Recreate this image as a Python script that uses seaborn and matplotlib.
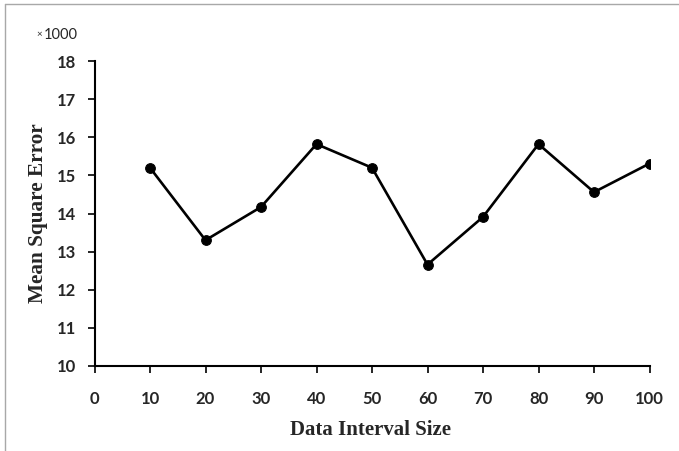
import matplotlib
matplotlib.use("Agg")
import matplotlib.pyplot as plt
import seaborn as sns
import pandas as pd
from matplotlib.lines import Line2D

interval_size = [10, 20, 30, 40, 50, 60, 70, 80, 90, 100]
mse_thousands = [15.2, 13.3, 14.17, 15.82, 15.2, 12.66, 13.91, 15.82, 14.56, 15.31]
x_ticks = [0, 10, 20, 30, 40, 50, 60, 70, 80, 90, 100]
y_ticks = [10, 11, 12, 13, 14, 15, 16, 17, 18]

sns.set_style("white")
plt.rcParams['font.family'] = ['Lato', 'DejaVu Sans']

df = pd.DataFrame({"size": interval_size, "mse": mse_thousands})

W, H = 679, 451
fig = plt.figure(figsize=(W / 100, H / 100), dpi=100)
L, R, T, B = 94.5, 649.5, 61, 366
ax = fig.add_axes([L / W, 1 - B / H, (R - L) / W, (B - T) / H])

sns.lineplot(data=df, x="size", y="mse", ax=ax, color="black", linewidth=1.9,
             marker="o", markersize=7, markeredgecolor="black",
             markerfacecolor="black")

ax.set_xlim(0, 100)
ax.set_ylim(10, 18)
ax.set_xticks(x_ticks)
ax.set_yticks(y_ticks)
ax.set_xticklabels([str(t) for t in x_ticks], fontsize=12, fontweight="bold")
ax.set_yticklabels([str(t) for t in y_ticks], fontsize=12, fontweight="bold")
ax.tick_params(axis="both", which="major", direction="out", length=5, width=1.2,
               color="black", bottom=True, left=True)
ax.tick_params(axis="x", pad=13)
ax.tick_params(axis="y", pad=8)

for s in ["top", "right"]:
    ax.spines[s].set_visible(False)
for s in ["left", "bottom"]:
    ax.spines[s].set_color("black")
    ax.spines[s].set_linewidth(1.5)

ax.set_xlabel("Data Interval Size", fontsize=15, fontweight="bold",
              family="Liberation Serif")
ax.xaxis.set_label_coords((371 - L) / (R - L), -(430 - B) / (B - T))
ax.xaxis.label.set_va("center")
ax.set_ylabel("Mean Square Error", fontsize=15, fontweight="bold",
              family="Liberation Serif")
ax.yaxis.set_label_coords(-(L - 38) / (R - L), (B - 213) / (B - T))
ax.yaxis.label.set_va("center")

# fit label lengths to the reference
fig.canvas.draw()
r = fig.canvas.get_renderer()
xl = ax.xaxis.label
xl.set_fontsize(15 * 161 / xl.get_window_extent(r).width)
yl = ax.yaxis.label
yl.set_fontsize(15 * 180 / yl.get_window_extent(r).height)

fig.text(36 / W, 1 - 35 / H, "\u00d7", fontsize=7, ha="left", va="center")
fig.text(44 / W, 1 - 35 / H, "1000", fontsize=10.5, ha="left", va="center")

fig.lines.append(Line2D([4.5 / W, 4.5 / W], [0, 1 - 3.5 / H], transform=fig.transFigure,
                        color="#a8a8a8", linewidth=1))
fig.lines.append(Line2D([4.5 / W, 1], [1 - 3.5 / H, 1 - 3.5 / H], transform=fig.transFigure,
                        color="#a8a8a8", linewidth=1))

fig.savefig("out.png", dpi=100)
